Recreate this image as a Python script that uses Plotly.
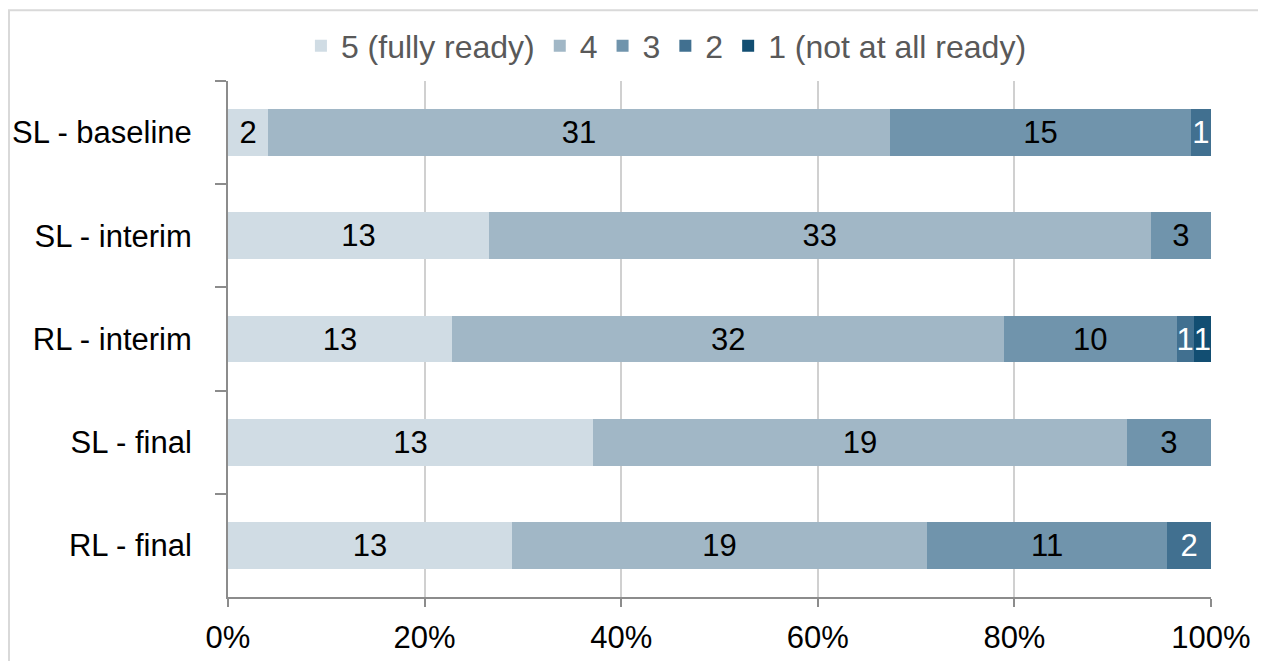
import plotly.graph_objects as go

categories = ["SL - baseline", "SL - interim", "RL - interim", "SL - final", "RL - final"]
series_names = ["5 (fully ready)", "4", "3", "2", "1 (not at all ready)"]
ready_5 = [2, 13, 13, 13, 13]
ready_4 = [31, 33, 32, 19, 19]
ready_3 = [15, 3, 10, 3, 11]
ready_2 = [1, 0, 1, 0, 2]
ready_1 = [0, 0, 1, 0, 0]
x_ticks = [0, 20, 40, 60, 80, 100]
x_tick_labels = ["0%", "20%", "40%", "60%", "80%", "100%"]

colors = ["#D0DCE4", "#A1B7C6", "#7094AC", "#417090", "#124E72"]
label_colors = ["#000000", "#000000", "#000000", "#FFFFFF", "#FFFFFF"]
FONT = "Liberation Sans, Arial, sans-serif"

fig = go.Figure()

for name, vals, col, lc in zip(series_names, [ready_5, ready_4, ready_3, ready_2, ready_1], colors, label_colors):
    fig.add_trace(go.Bar(
        y=categories,
        x=vals,
        name=name,
        orientation="h",
        marker=dict(color=col, line=dict(width=0)),
        text=[str(v) if v > 0 else "" for v in vals],
        textposition="inside",
        insidetextanchor="middle",
        textangle=0,
        textfont=dict(color=lc, size=31, family=FONT),
        hoverinfo="x+y+name",
    ))

# page has an 8px body margin, so the figure is sized/offset to compensate
L, T, W, H = 220, 72, 983, 517
fig.update_layout(
    width=1258,
    height=653,
    barmode="stack",
    barnorm="percent",
    bargap=0.545,
    plot_bgcolor="white",
    paper_bgcolor="white",
    margin=dict(l=L, r=1258 - L - W, t=T, b=653 - T - H),
    font=dict(family=FONT, size=31, color="#000000"),
    uniformtext=dict(minsize=31, mode="show"),
    legend=dict(
        orientation="h",
        x=0.446, xanchor="center",
        y=(T + H - 38) / H, yanchor="middle",
        font=dict(family=FONT, size=32, color="#595959"),
        traceorder="normal",
        itemwidth=30,
    ),
    showlegend=True,
)

fig.update_xaxes(
    range=[0, 100],
    tickvals=x_ticks,
    ticktext=x_tick_labels,
    showgrid=True,
    gridcolor="#D0D0D0",
    gridwidth=2,
    showline=True,
    linecolor="#8C8C8C",
    linewidth=2,
    ticks="outside",
    ticklen=8,
    tickwidth=2,
    tickcolor="#8C8C8C",
    zeroline=False,
    automargin=False,
    ticklabelstandoff=4,
    tickfont=dict(size=31, color="#000000"),
)

fig.update_yaxes(
    autorange="reversed",
    showline=True,
    linecolor="#8C8C8C",
    linewidth=2,
    ticks="outside",
    tickson="boundaries",
    ticklen=11,
    tickwidth=2,
    tickcolor="#8C8C8C",
    showgrid=False,
    automargin=False,
    ticklabelstandoff=28,
    tickfont=dict(size=31, color="#000000"),
)

# outer chart border
fig.add_shape(
    type="rect", xref="paper", yref="paper",
    x0=(1 - L) / W, x1=(1275 - L) / W,
    y0=(T + H - 680) / H, y1=(T + H - 1) / H,
    line=dict(color="#D9D9D9", width=2),
    fillcolor="rgba(0,0,0,0)",
    layer="below",
)

fig.write_html("out.html")
